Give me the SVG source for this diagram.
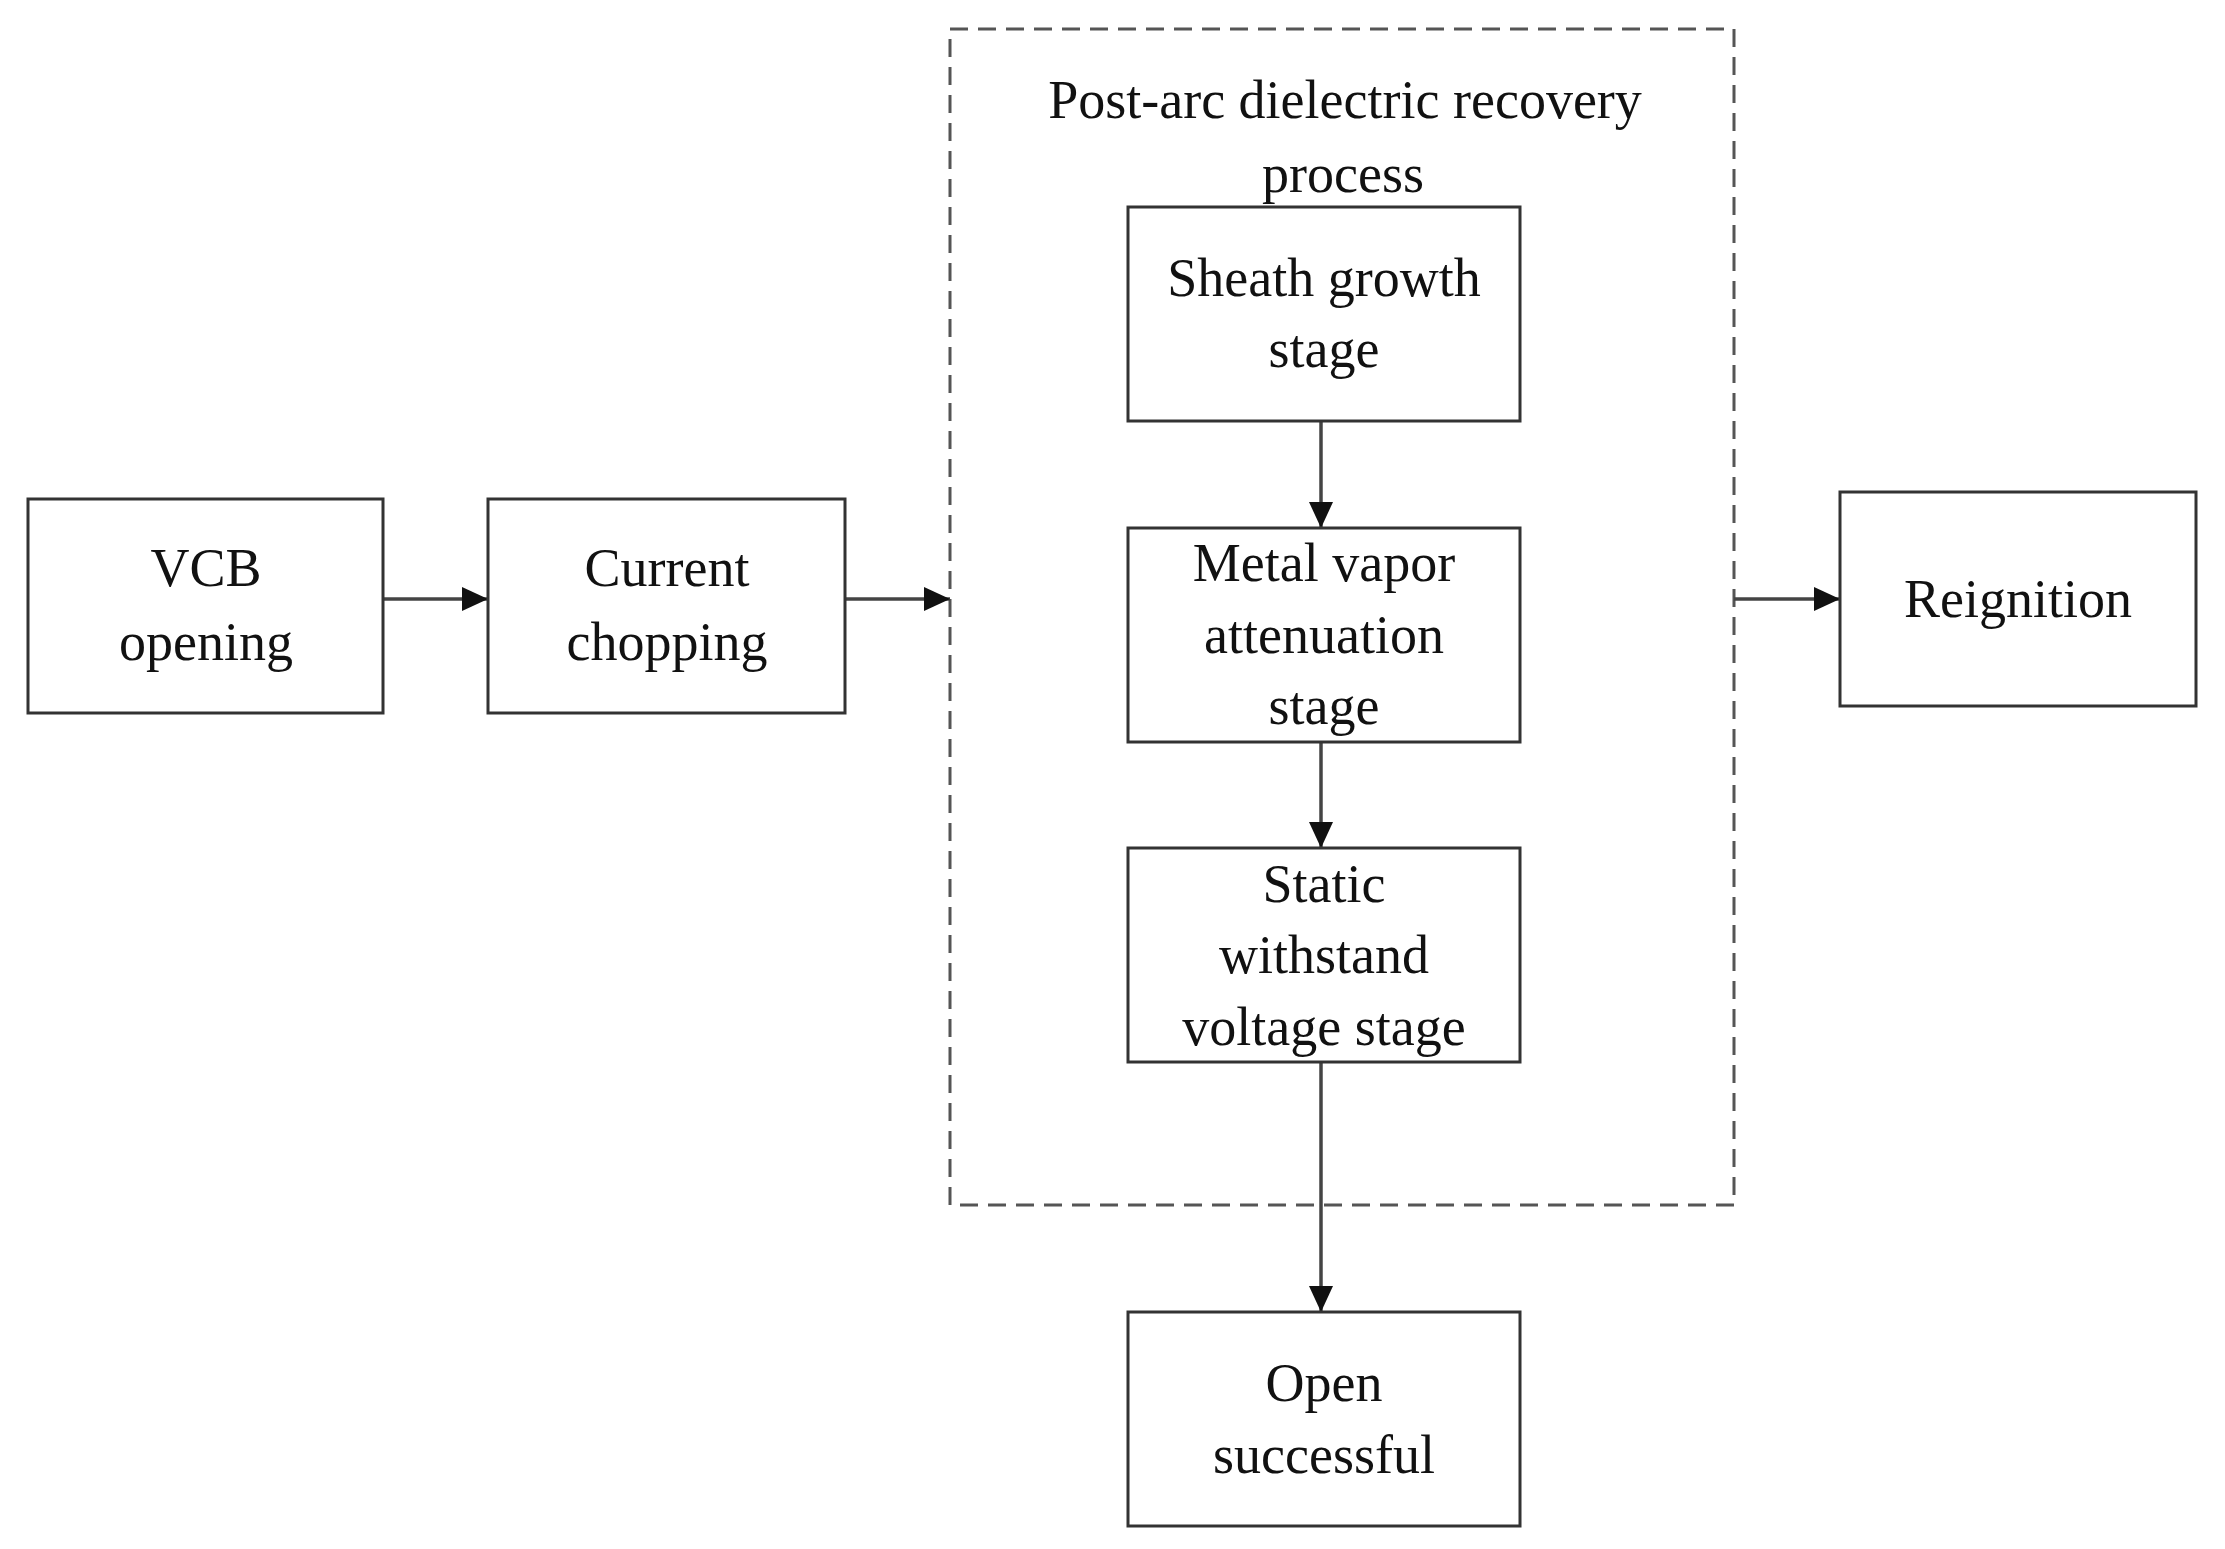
<svg xmlns="http://www.w3.org/2000/svg" width="2225" height="1549" viewBox="0 0 2225 1549">
<style>
.b{fill:#fff;stroke:#333;stroke-width:3}
.t{font-family:"Liberation Serif",serif;font-size:54px;fill:#111;text-anchor:middle}
.c{stroke:#444;stroke-width:3.5;fill:none;marker-end:url(#a)}
</style>
<defs><marker id="a" markerWidth="26" markerHeight="24" refX="26" refY="12" orient="auto" markerUnits="userSpaceOnUse" viewBox="0 0 26 24"><path d="M0,0L26,12L0,24z" fill="#111"/></marker></defs>
<rect width="2225" height="1549" fill="#fff"/>
<g id="group"><rect x="950" y="29" width="784" height="1176" fill="none" stroke="#555" stroke-width="3" stroke-dasharray="18,10"/>
<text class="t" x="1345" y="118">Post-arc dielectric recovery</text><text class="t" x="1343" y="192">process</text></g>
<g id="connectors">
<path class="c" d="M383,599H488"/><path class="c" d="M845,599H950"/><path class="c" d="M1734,599H1840"/>
<path class="c" d="M1321,421V528"/><path class="c" d="M1321,742V848"/><path class="c" d="M1321,1062V1312"/>
</g>
<g id="vcb"><rect class="b" x="28" y="499" width="355" height="214"/><text class="t" x="206" y="586">VCB</text><text class="t" x="206" y="660">opening</text></g>
<g id="current"><rect class="b" x="488" y="499" width="357" height="214"/><text class="t" x="667" y="586">Current</text><text class="t" x="667" y="660">chopping</text></g>
<g id="sheath"><rect class="b" x="1128" y="207" width="392" height="214"/><text class="t" x="1324" y="296">Sheath growth</text><text class="t" x="1324" y="367">stage</text></g>
<g id="metal"><rect class="b" x="1128" y="528" width="392" height="214"/><text class="t" x="1324" y="581">Metal vapor</text><text class="t" x="1324" y="653">attenuation</text><text class="t" x="1324" y="724">stage</text></g>
<g id="static"><rect class="b" x="1128" y="848" width="392" height="214"/><text class="t" x="1324" y="902">Static</text><text class="t" x="1324" y="973">withstand</text><text class="t" x="1324" y="1045">voltage stage</text></g>
<g id="open"><rect class="b" x="1128" y="1312" width="392" height="214"/><text class="t" x="1324" y="1401">Open</text><text class="t" x="1324" y="1473">successful</text></g>
<g id="reignition"><rect class="b" x="1840" y="492" width="356" height="214"/><text class="t" x="2018" y="617">Reignition</text></g>
</svg>
